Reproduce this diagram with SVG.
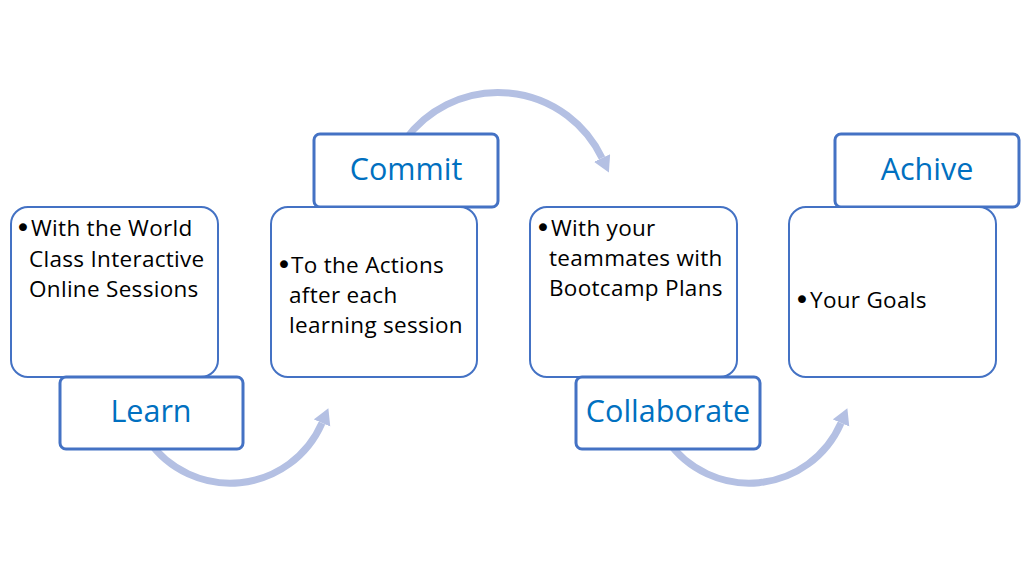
<svg xmlns="http://www.w3.org/2000/svg" width="1024" height="585" viewBox="0 0 1024 585">
<style>
.box{fill:#fff;stroke:#4472C4;stroke-width:2}
.lab{fill:#fff;stroke:#4472C4;stroke-width:3}
.arc{fill:none;stroke:#B4C0E3;stroke-width:7}
.body{font-family:"Open Sans","Noto Sans",sans-serif;font-size:22.5px;letter-spacing:0.3px;fill:#000}
.bul{font-family:"DejaVu Sans",sans-serif;font-size:27px;letter-spacing:0}
.title{font-family:"Open Sans","Noto Sans",sans-serif;font-size:30.5px;fill:#0070C0;text-anchor:middle}
</style>
<defs>
<marker id="ah" markerUnits="userSpaceOnUse" markerWidth="20" markerHeight="20" refX="0" refY="9" orient="auto">
<polygon points="0,0 16,9 0,18" fill="#B4C0E3"/>
</marker>
</defs>
<rect width="1024" height="585" fill="#fff"/>
<g id="connectors">
<path class="arc" d="M148,440 A100,100 0 0 0 322,423" marker-end="url(#ah)"/>
<path class="arc" d="M405,140 A115,115 0 0 1 602,158" marker-end="url(#ah)"/>
<path class="arc" d="M667,440 A100,100 0 0 0 841,423" marker-end="url(#ah)"/>
</g>
<g id="node-learn">
<rect class="box" x="11" y="207" width="207" height="170" rx="17"/>
<text class="body"><tspan class="bul" x="15" y="237">•</tspan><tspan x="31" y="236">With the World</tspan><tspan x="29" y="267">Class Interactive</tspan><tspan x="29" y="297">Online Sessions</tspan></text>
<rect class="lab" x="60" y="377" width="183" height="72" rx="6"/>
<text class="title" x="151" y="422">Learn</text>
</g>
<g id="node-commit">
<rect class="lab" x="314" y="134" width="184" height="73" rx="6"/>
<text class="title" x="406" y="180">Commit</text>
<rect class="box" x="271" y="207" width="206" height="170" rx="17"/>
<text class="body"><tspan class="bul" x="276" y="274">•</tspan><tspan x="291" y="273">To the Actions</tspan><tspan x="289" y="303">after each</tspan><tspan x="289" y="333">learning session</tspan></text>
</g>
<g id="node-collaborate">
<rect class="box" x="530" y="207" width="207" height="170" rx="17"/>
<text class="body"><tspan class="bul" x="535" y="237">•</tspan><tspan x="551" y="236">With your</tspan><tspan x="549" y="266">teammates with</tspan><tspan x="549" y="296">Bootcamp Plans</tspan></text>
<rect class="lab" x="576" y="377" width="184" height="72" rx="6"/>
<text class="title" x="668" y="422">Collaborate</text>
</g>
<g id="node-achive">
<rect class="lab" x="835" y="134" width="184" height="73" rx="6"/>
<text class="title" x="927" y="180">Achive</text>
<rect class="box" x="789" y="207" width="207" height="170" rx="17"/>
<text class="body"><tspan class="bul" x="794" y="309">•</tspan><tspan x="810" y="308">Your Goals</tspan></text>
</g>
</svg>
